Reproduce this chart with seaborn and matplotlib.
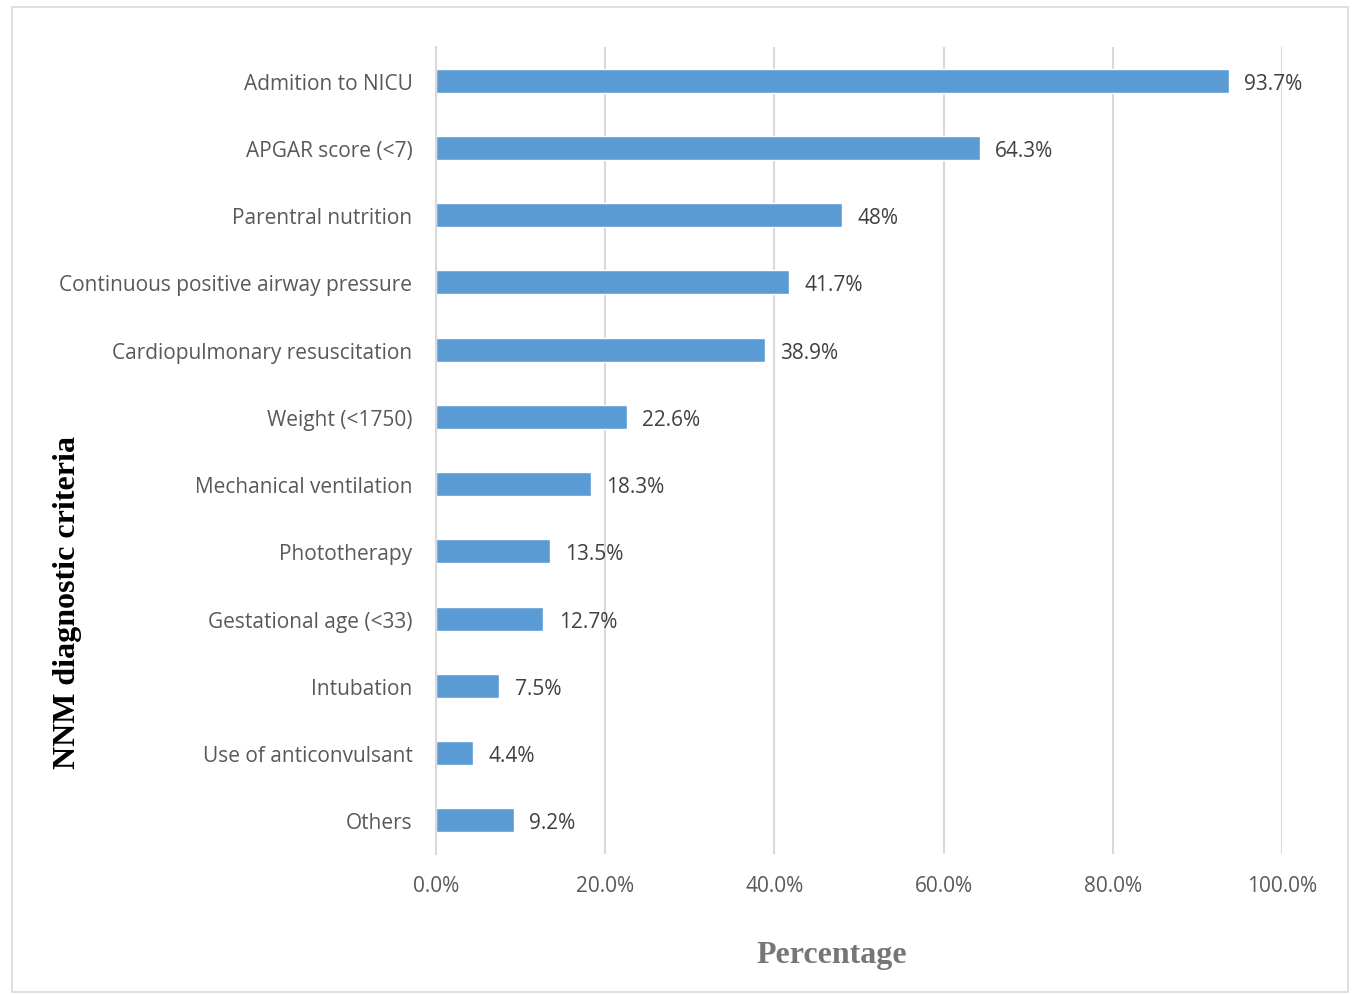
import matplotlib
matplotlib.use('Agg')
import matplotlib.pyplot as plt
import seaborn as sns
import pandas as pd
from matplotlib.patches import Rectangle
from matplotlib.ticker import FuncFormatter

# data
criteria = ['Admition to NICU', 'APGAR score (<7)', 'Parentral nutrition',
            'Continuous positive airway pressure', 'Cardiopulmonary resuscitation',
            'Weight (<1750)', 'Mechanical ventilation', 'Phototherapy',
            'Gestational age (<33)', 'Intubation', 'Use of anticonvulsant', 'Others']
percent = [93.7, 64.3, 48.0, 41.7, 38.9, 22.6, 18.3, 13.5, 12.7, 7.5, 4.4, 9.2]
value_labels = ['93.7%', '64.3%', '48%', '41.7%', '38.9%', '22.6%', '18.3%',
                '13.5%', '12.7%', '7.5%', '4.4%', '9.2%']
x_ticks = [0, 20, 40, 60, 80, 100]

df = pd.DataFrame({'criteria': criteria, 'percent': percent})

sns.set_style('white')
plt.rcParams['font.family'] = ['Open Sans', 'DejaVu Sans']

fig = plt.figure(figsize=(13.53, 9.95), dpi=100)
ax = fig.add_axes([436 / 1353, 1 - 855 / 995, 846 / 1353, 807 / 995])

sns.barplot(data=df, x='percent', y='criteria', orient='h', color='#5B9BD5',
            width=0.36, saturation=1, ax=ax)

ax.set_xlim(0, 100)
ax.set_ylim(11.5, -0.5)
ax.set_xticks(x_ticks)
ax.xaxis.set_major_formatter(FuncFormatter(lambda v, p: f'{v:.1f}%'))
ax.grid(axis='x', color='#d9d9d9', linewidth=1.5)
ax.set_axisbelow(True)
for s in ['top', 'right', 'bottom']:
    ax.spines[s].set_visible(False)
ax.spines['left'].set_color('#d9d9d9')
ax.spines['left'].set_linewidth(1.5)
ax.tick_params(axis='both', length=0, labelsize=15, labelcolor='#595959')
ax.tick_params(axis='x', pad=15)
ax.tick_params(axis='y', pad=17)

for i, (v, lab) in enumerate(zip(percent, value_labels)):
    ax.annotate(lab, (v, i), xytext=(11, 0), textcoords='offset points',
                va='center_baseline', ha='left', fontsize=15, color='#404040')

ax.set_xlabel('Percentage', family='Liberation Serif', fontweight='bold',
              fontsize=23, color='#767676', va='center')
ax.xaxis.set_label_coords(396 / 846, -101 / 807)
ax.set_ylabel('NNM diagnostic criteria', family='Liberation Serif', fontweight='bold',
              fontsize=23, color='black', va='center')
ax.yaxis.set_label_coords(-368 / 846, 252 / 807)

fig.patches.append(Rectangle((12 / 1353, 2 / 995), 1336 / 1353, 985 / 995,
                             transform=fig.transFigure, fill=False,
                             edgecolor='#d9d9d9', linewidth=1.2))

fig.savefig('out.png', dpi=100)
